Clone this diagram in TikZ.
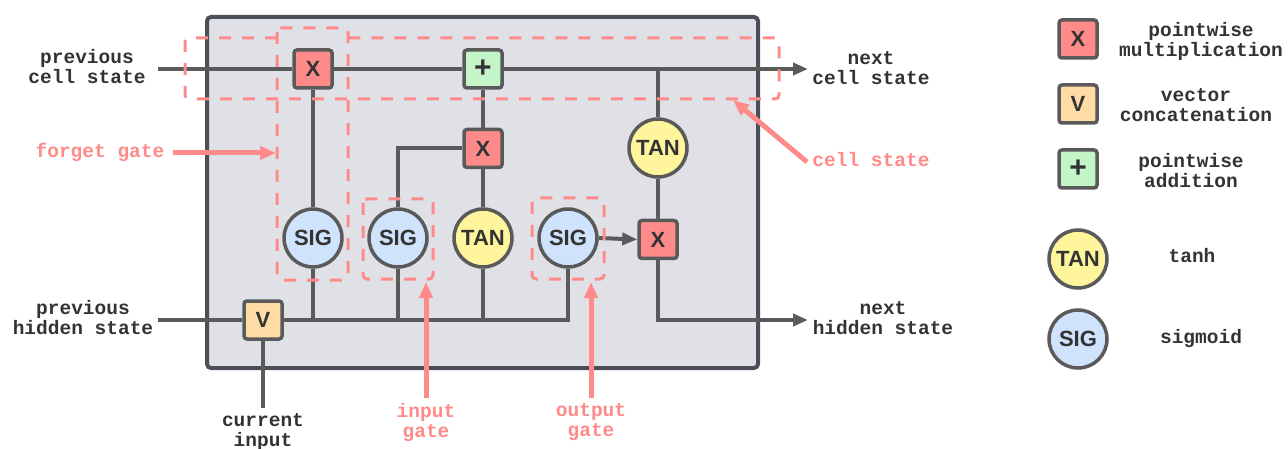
\documentclass[tikz,border=0pt]{standalone}
\usepackage{fontspec}
\setmainfont{Liberation Sans}
\setsansfont{Liberation Sans}
\setmonofont{Liberation Mono}
\usetikzlibrary{arrows.meta}
\definecolor{boxfill}{HTML}{DFE1E6}
\definecolor{boxline}{HTML}{4B5058}
\definecolor{gline}{HTML}{5A5A5A}
\definecolor{pinkc}{HTML}{FF8A8A}
\definecolor{redf}{HTML}{FF8A8A}
\definecolor{orangef}{HTML}{FFDBA5}
\definecolor{greenf}{HTML}{C4F5C9}
\definecolor{yellowf}{HTML}{FFF59D}
\definecolor{bluef}{HTML}{CFE3FC}
\definecolor{txt}{HTML}{333333}
\newcommand\labfont{\fontsize{19.5}{20}\selectfont\ttfamily\bfseries}
\newcommand\opfont{\fontsize{22}{24}\selectfont\sffamily\bfseries}
\newcommand\plusfont{\fontsize{30}{30}\selectfont\sffamily\bfseries}
\begin{document}
\begin{tikzpicture}[x=1pt,y=-1pt,
  op/.style={rectangle, draw=gline, line width=3.5pt, rounded corners=3pt, minimum size=38pt, inner sep=0pt, font=\opfont, text=txt},
  act/.style={circle, draw=gline, line width=3.5pt, minimum size=58pt, inner sep=0pt, font=\opfont, text=txt},
  plusop/.style={op, fill=greenf, font=\plusfont},
  wire/.style={draw=gline, line width=4pt},
  arr/.style={wire, -{Triangle[length=15pt,width=12pt]}},
  gatebox/.style={draw=pinkc, line width=3pt, dash pattern=on 12pt off 11pt, rounded corners=4pt},
  note/.style={draw=pinkc, line width=5pt, -{Triangle[length=16pt,width=13pt]}},
  lab/.style={font=\labfont, text=txt, align=center, inner sep=0pt},
  plab/.style={lab, text=pinkc}]
\useasboundingbox (0,0) rectangle (1288,449);
% main cell box
\draw[fill=boxfill, draw=boxline, line width=4pt, rounded corners=4pt] (207,17) rectangle (758,368);

% operation nodes
\node[op, fill=redf] (xf) at (313,69) {X};
\node[plusop] (plus) at (483,69) {+};
\node[op, fill=redf] (xi) at (483,148.5) {X};
\node[op, fill=redf] (xo) at (658,239.5) {X};
\node[op, fill=orangef] (v) at (263,320) {V};
\node[act, fill=bluef] (sigf) at (313,238) {SIG};
\node[act, fill=bluef] (sigi) at (398,238) {SIG};
\node[act, fill=yellowf] (tani) at (483,238) {TAN};
\node[act, fill=bluef] (sigo) at (568,238) {SIG};
\node[act, fill=yellowf] (tanc) at (658,148) {TAN};

% free ends
\coordinate (csin) at (158,69);
\coordinate (csout) at (808,69);
\coordinate (cj) at (658,69);
\coordinate (hin) at (158,320);
\coordinate (hout) at (808,320);
\coordinate (cinp) at (263,408);

% wires
\draw[wire] (csin) -- (xf.west);
\draw[wire] (xf.east) -- (plus.west);
\draw[arr] (plus.east) -- (csout);
\draw[wire] (cj) -- (tanc.north);
\draw[wire] (tanc.south) -- (xo.north);
\draw[wire] (sigf.north) -- (xf.south);
\draw[wire] (sigi.north) |- (xi.west);
\draw[wire] (tani.north) -- (xi.south);
\draw[wire] (xi.north) -- (plus.south);
\draw[arr] (sigo.east) -- (xo.west);
\draw[arr] (xo.south) |- (hout);
\draw[wire] (hin) -- (v.west);
\draw[wire] (v.east) -| (sigo.south);
\draw[wire] (sigf.south) -- (sigf.south |- v.east);
\draw[wire] (sigi.south) -- (sigi.south |- v.east);
\draw[wire] (tani.south) -- (tani.south |- v.east);
\draw[wire] (v.south) -- (cinp);

% gate dashed boxes
\draw[gatebox] (277,38) -- (185,38) -- (185,99) -- (779,99) -- (779,38) -- (348,38);
\draw[gatebox] (277,28) rectangle (348,280);
\draw[gatebox] (363,199) rectangle (433,279);
\draw[gatebox] (532,198) rectangle (604,279);

% labels
\node[lab] (pcs) at (87,67) {previous\\cell state};
\node[lab] (phs) at (83,318) {previous\\hidden state};
\node[lab] (ncs) at (871,68) {next\\cell state};
\node[lab] (nhs) at (883,318) {next\\hidden state};
\node[lab] (cin) at (263,432) {current\\input};

% annotations
\node[plab] (fgl) at (100,152) {forget gate};
\node[plab] (csl) at (871,160) {cell state};
\node[plab] (igl) at (426,422) {input\\gate};
\node[plab] (ogl) at (591,422) {output\\gate};
\coordinate (fgs) at (173,153);
\coordinate (fgt) at (276,153);
\coordinate (css) at (807,162);
\coordinate (cst) at (733,100);
\coordinate (igs) at (426,398);
\coordinate (igt) at (426,282);
\coordinate (ogs) at (591,398);
\coordinate (ogt) at (591,282);
\draw[note] (fgs) -- (fgt);
\draw[note] (css) -- (cst);
\draw[note] (igs) -- (igt);
\draw[note] (ogs) -- (ogt);

% legend
\node[op, fill=redf] (lx) at (1078,39) {X};
\node[op, fill=orangef] (lv) at (1078,104) {V};
\node[plusop] (lp) at (1078,169) {+};
\node[act, fill=yellowf] (lt) at (1078,259) {TAN};
\node[act, fill=bluef] (ls) at (1078,339) {SIG};
\node[lab] (lxt) at (1201,41) {pointwise\\multiplication};
\node[lab] (lvt) at (1196,105) {vector\\concatenation};
\node[lab] (lpt) at (1191,171) {pointwise\\addition};
\node[lab] (ltt) at (1192,256) {tanh};
\node[lab] (lst) at (1201,339) {sigmoid};
\end{tikzpicture}
\end{document}
